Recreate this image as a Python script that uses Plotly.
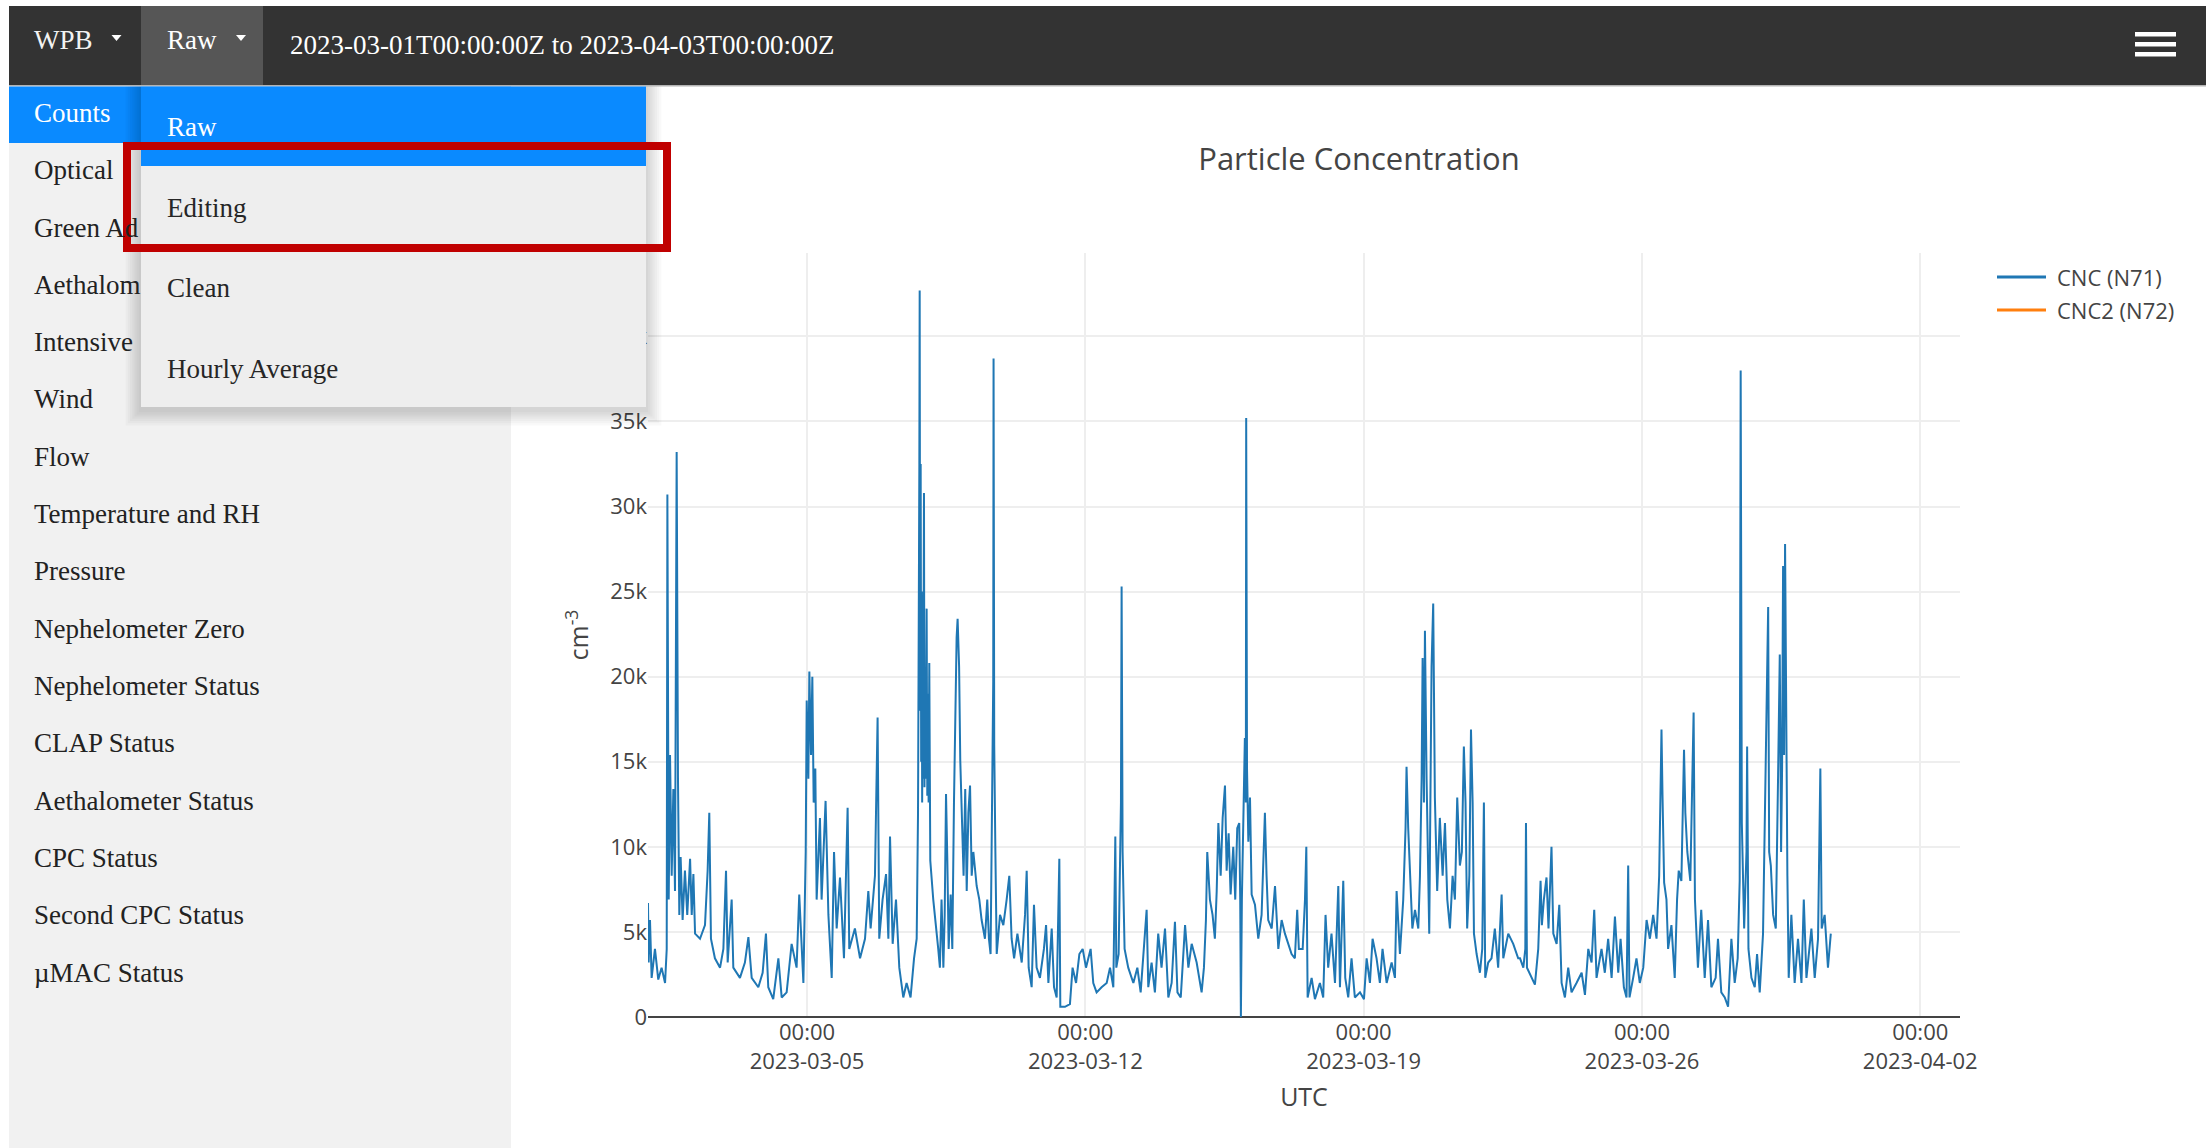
import pandas as pd
import plotly.graph_objects as go

# ---------------- data ----------------
START = "2023-03-01T00:00:00"
# hours since 2023-03-01 00:00 UTC
cnc_hours = [
    0.0, 0.4, 1.2, 2.2, 4.2, 6.2, 8.2, 10.3, 11.3, 11.7, 12.5, 13.3, 14.3, 15.3, 16.3, 17.3, 18.1, 18.9, 19.7,
    20.9, 22.3, 23.7, 25.4, 26.4, 27.4, 28.4, 31.4, 34.4, 36.0, 37.0, 38.0, 40.4, 43.5, 45.5, 47.1, 48.1, 50.5,
    51.5, 55.5, 58.5, 60.6, 62.6, 66.6, 69.2, 71.2, 72.6, 75.6, 78.7, 80.7, 83.7, 86.7, 89.7, 91.3, 93.8, 95.2,
    95.8, 96.8, 97.4, 98.4, 99.2, 100.0, 101.0, 101.8, 103.8, 104.8, 107.2, 108.9, 110.9, 112.3, 113.9, 115.9,
    118.3, 120.5, 121.5, 124.9, 128.0, 131.0, 133.0, 134.4, 137.0, 138.6, 139.6, 141.6, 143.7, 145.1, 146.1,
    147.7, 149.7, 151.7, 154.1, 156.1, 158.5, 160.6, 162.2,
    163.0, 163.4, 163.8, 164.0, 164.3, 164.6, 164.9, 165.2, 165.5, 165.8, 166.1, 166.6, 166.9, 167.2, 167.6,
    168.2, 168.6, 169.0, 169.4, 169.8, 170.4, 172.2, 175.2,
    176.2, 177.2, 178.3, 179.1, 179.9, 180.7, 181.5, 182.7, 183.7, 184.7, 185.5, 186.3, 186.9, 187.8, 188.5,
    189.5, 190.5, 191.5, 192.4, 193.4, 194.4, 195.4, 196.4, 198.4, 200.0, 201.4, 203.4, 204.8, 205.8, 206.8,
    207.8, 208.4, 208.6, 209.0, 209.7, 210.5, 212.5, 214.5, 216.5, 218.1, 219.5, 221.0, 223.0, 225.6, 227.6,
    228.6, 229.8, 231.6, 233.0, 234.6, 236.6, 239.0, 240.3, 241.7, 243.7, 245.1, 246.7, 248.3, 248.9, 251.7,
    254.7, 256.3, 258.4, 260.4, 262.4, 264.4, 265.8, 267.2, 268.8, 270.8, 273.8, 276.9, 278.9, 280.9, 282.1,
    282.7, 284.1, 285.5, 285.9, 286.5, 287.7, 289.9, 293.0, 295.4, 297.4, 299.0, 301.0, 302.0, 304.0, 306.0,
    308.0, 310.0, 312.1, 314.1, 316.1, 318.1, 319.6, 321.6, 323.1, 324.2, 326.2, 328.2, 331.2, 334.2, 335.6,
    336.8, 337.6, 339.2, 340.8, 342.2, 343.3, 344.3,
    345.7, 346.9, 348.3, 349.3, 350.5, 351.7, 353.3, 354.5, 355.7, 356.9, 357.5, 357.9, 358.5, 359.3, 360.3,
    360.9, 361.1, 361.6, 362.4, 363.4, 364.4, 366.4, 368.4, 370.4, 371.8, 372.4, 373.4, 374.4, 376.5, 378.5,
    380.5, 382.5, 384.5, 386.5, 388.5, 390.5, 391.9, 392.9, 395.2, 396.6, 397.4, 398.2, 400.6, 402.6, 405.6,
    407.6, 409.0, 410.6, 412.6, 414.7, 416.7, 417.7, 419.7, 420.9, 422.7, 424.7, 426.7, 429.8, 432.2, 433.8,
    435.8, 437.4, 439.8, 441.8, 443.4, 445.9, 448.9, 450.9, 451.9, 453.9, 455.9, 457.3, 457.9, 458.9, 459.9,
    461.4, 463.0, 465.0, 466.0, 467.0, 467.6, 468.4, 469.0, 470.0, 471.6, 472.4, 473.0, 474.0, 475.0, 476.4,
    478.0, 479.7, 481.1, 482.5, 484.1, 485.7, 487.1, 488.5, 490.1, 491.3, 492.5, 493.5, 494.5, 495.8, 496.8,
    497.8, 498.6, 500.2, 502.2, 503.6, 504.6, 505.4, 507.2, 509.2, 511.2, 513.2, 515.3, 516.3, 519.3, 522.3,
    525.3,
    526.4, 528.4, 529.6, 530.0, 530.6, 533.4, 535.4, 537.4, 538.8, 539.6, 540.8, 542.4, 543.6, 545.4, 546.5,
    548.5, 550.1, 551.5, 553.5, 555.5, 557.5, 560.5, 563.6, 565.6, 567.6, 569.6, 571.2, 572.6, 575.6, 577.6,
    579.6, 581.7, 583.7, 585.7, 587.1, 589.1, 590.7, 591.7, 592.5, 594.7, 596.7, 598.7, 600.8, 602.8, 604.8,
    606.8, 608.8, 610.4, 611.8, 612.4, 613.4, 614.8, 615.8, 617.8, 619.8, 621.2, 622.2, 623.8, 625.4, 626.2,
    627.4, 629.2, 631.2, 632.0, 633.8, 635.8, 637.9, 639.9, 641.9, 644.5, 645.9, 647.9, 650.0, 652.0, 654.0,
    656.0, 657.8, 659.0, 659.6, 660.3, 661.7, 663.1, 663.5, 664.3, 666.1, 668.1, 669.5, 671.1, 673.1, 674.1,
    675.2, 676.2, 676.8, 677.8, 679.2, 680.8, 682.2, 683.2, 684.0, 684.6, 685.2, 685.8, 686.4, 687.2, 687.8,
    688.6, 690.2, 692.2, 694.2, 696.3, 697.7, 699.3, 702.3, 704.3, 706.3, 707.7, 708.5, 710.3, 712.3, 714.0,
]
# CNC (N71) concentration, cm^-3
cnc_values = [
    6700, 3200, 5700, 2300, 4000, 2200, 2900, 2000, 4000, 30700, 6900, 15400, 8300, 13400, 7400, 33200, 14000, 6000, 9400,
    5700, 8600, 6000, 9300, 6000, 8400, 4900, 4600, 5400, 8600, 12000, 4600, 3450, 2900, 4000, 8600, 3200, 6900,
    2900, 2300, 3200, 4700, 2300, 1750, 2600, 4900, 1750, 1050, 3450, 1150, 1450, 4300, 2900, 7200, 2000, 9700,
    18600, 14000, 20300, 15400, 20000, 12600, 14600, 6900, 11700, 6900, 12700, 6000, 2300, 9700, 5200, 8200,
    3450, 12300, 4000, 5200, 3450, 4600, 7400, 5200, 8300, 17600, 4600, 6900, 8400, 4600, 10600,
    4300, 6900, 2900, 1150, 2000, 1150, 3450, 4600,
    12000, 19700, 32500, 42700, 18000, 32500, 15000, 25000, 12600, 21400, 14000, 30800, 13500, 20000, 14000,
    24000, 13000, 19000, 12600, 20800, 9200, 6900, 4000,
    2900, 6900, 2900, 6000, 13100, 9200, 4000, 7200, 4000, 12600, 18300, 22300, 23400, 20600, 15100,
    11700, 8300, 13400, 7400, 12000, 13600, 8300, 9700, 7700, 6900, 5700, 4600, 6900, 4600, 3700,
    15400, 19700, 38700, 16000, 9700, 3700, 6000, 5400, 6900, 8300, 4600, 3450, 4900, 3200, 6000,
    8600, 2900, 1750, 6600, 2900, 2300, 4000, 5400, 2000, 5200, 1750, 1150, 9300, 600, 600,
    750, 2900, 2000, 3700, 4000, 2900, 3450, 4000, 2000, 1450, 1750, 2000, 2900, 1750, 10600,
    2900, 3700, 12600, 25300, 9700, 4000, 2900, 2000, 2900, 1450, 3450, 6300, 1750, 3200, 1450,
    4900, 2900, 5200, 1150, 2000, 5600, 1450, 1150, 4000, 5400, 2900, 4300, 3200, 1450, 2900,
    5700, 9700, 6900, 6000, 4600, 7400, 11400,
    8300, 11700, 13600, 8600, 10800, 7200, 10000, 6900, 11100, 11400, 6900, 0, 6900, 11100, 16400,
    12600, 35200, 14600, 10300, 12900, 7200, 6600, 4600, 6000, 10900, 12000, 8300, 5700, 5200, 7700,
    4000, 5700, 4900, 4300, 3700, 3450, 6300, 4000, 4000, 6900, 10000, 1150, 2300, 1050, 2000,
    1150, 6000, 2900, 4900, 2000, 7700, 1750, 8000, 2300, 1150, 3450, 1150, 1450, 1050, 3450,
    2000, 4600, 3450, 2000, 4000, 2000, 3200, 2300, 7400, 3700, 6900, 11100, 14700, 11100, 8600,
    5200, 6300, 5200, 8300, 14000, 21100, 12600, 22700, 14000, 4900, 14000, 20600, 24300, 12900, 7400,
    11700, 8300, 11400, 6900, 5200, 8300, 6900, 12900, 8900, 9700, 15900, 12600, 5200, 8300, 16900,
    12600, 4900, 3700, 2600, 4000, 12600, 2300, 3200, 3450, 5200, 2900, 7200, 3450, 4900, 4300,
    3450,
    3450, 2900, 4000, 11400, 2900, 2300, 1900, 4000, 8000, 5400, 6900, 8200, 5200, 10000, 4900,
    4300, 6600, 2000, 1150, 2900, 1450, 2000, 2600, 1300, 4000, 3200, 6300, 2300, 4000, 2600,
    4600, 2300, 5900, 2600, 4600, 1750, 1150, 8900, 1150, 2300, 3450, 2000, 2900, 5700, 4600,
    6000, 4600, 8300, 16900, 13100, 7900, 6900, 4000, 5400, 2300, 6900, 8600, 8000, 15700, 12000,
    9700, 8000, 17900, 6900, 2900, 6300, 2300, 5700, 1750, 2300, 4600, 1450, 1150, 600, 4600,
    2000, 3450, 8000, 38000, 11400, 5200, 9700, 15900, 4000, 2300, 1750, 3700, 1450, 4900, 11100,
    17400, 24100, 9700, 8900, 6000, 5200, 14300, 21300, 9700, 14600, 26500, 15400, 27800, 15400, 8300,
    2300, 6000, 2000, 4600, 2000, 6900, 2300, 5200, 2300, 4600, 14600, 5200, 6000, 2900, 4900,
]
# CNC2 (N72) has no visible data in this window
cnc2_hours = []
cnc2_values = []

x_range = ["2023-03-01", "2023-04-03"]
x_tick0 = "2023-03-05"
y_range = [0, 44900]

sidebar_items = ["Counts", "Optical", "Green Ad", "Aethalom", "Intensive", "Wind", "Flow",
                 "Temperature and RH", "Pressure", "Nephelometer Zero", "Nephelometer Status",
                 "CLAP Status", "Aethalometer Status", "CPC Status", "Second CPC Status", "µMAC Status"]
dropdown_items = ["Raw", "Editing", "Clean", "Hourly Average"]
nav_station = "WPB"
nav_mode = "Raw"
nav_range = "2023-03-01T00:00:00Z to 2023-04-03T00:00:00Z"
legend_names = ["CNC (N71)", "CNC2 (N72)"]
legend_colors = ["#1f77b4", "#ff7f0e"]

# ---------------- figure ----------------
W, H = 2208, 1148


def X(px):
    return px / W


def Y(py):
    return 1 - py / H


t0 = pd.Timestamp(START)
cnc_t = t0 + pd.to_timedelta(cnc_hours, unit="h")
cnc2_t = t0 + pd.to_timedelta(cnc2_hours, unit="h")

fig = go.Figure()
fig.add_trace(go.Scatter(x=cnc_t, y=cnc_values, mode="lines", name=legend_names[0],
                         line=dict(color=legend_colors[0], width=2), showlegend=False))
fig.add_trace(go.Scatter(x=cnc2_t, y=cnc2_values, mode="lines", name=legend_names[1],
                         line=dict(color=legend_colors[1], width=2), showlegend=False))

FONT = "Open Sans, verdana, arial, sans-serif"
SERIF = "Liberation Serif, Times New Roman, serif"

shapes = []


def rect(x0, y0, x1, y1, fill, layer="above", opacity=1.0):
    shapes.append(dict(type="rect", xref="paper", yref="paper", x0=X(x0), x1=X(x1), y0=Y(y1), y1=Y(y0),
                       fillcolor=fill, line=dict(width=0), layer=layer, opacity=opacity))


# navbar
rect(9, 6, 2206, 85, "#333333", layer="below")
rect(9, 85, 2206, 86.5, "#b4b4b4", layer="below")
rect(141, 6, 263, 85, "#565656", layer="below")
# hamburger
for yb in (32, 42, 52):
    rect(2135, yb, 2176, yb + 4.5, "#ffffff", layer="below")
# carets
for cx in (116.5, 241):
    shapes.append(dict(type="path", xref="paper", yref="paper", layer="below",
                       path=f"M {X(cx-5)} {Y(35)} L {X(cx+5)} {Y(35)} L {X(cx)} {Y(41)} Z",
                       fillcolor="#ffffff", line=dict(width=0)))
# sidebar
rect(9, 86.5, 511, 1148, "#f1f1f1", layer="below")
rect(9, 86.5, 511, 143, "#0a8aff", layer="below")
# dropdown shadow
for k in range(1, 8):
    e = k * 2.2
    rect(141 - e, 86.5, 646 + e, 407 + e + 3, "#000000", opacity=0.022)
# dropdown
rect(141, 86.5, 646, 407, "#eeeeee")
rect(141, 86.5, 646, 166, "#0a8aff")
# red highlight box
shapes.append(dict(type="rect", xref="paper", yref="paper", x0=X(127), x1=X(667), y0=Y(248), y1=Y(146),
                   line=dict(color="#c00000", width=8), fillcolor="rgba(0,0,0,0)", layer="above"))
# legend lines
for i, c in enumerate(legend_colors):
    yy = 277 + 33 * i
    shapes.append(dict(type="line", xref="paper", yref="paper", x0=X(1997), x1=X(2046), y0=Y(yy), y1=Y(yy),
                       line=dict(color=c, width=3), layer="above"))

ann = []


def text(x, y, s, size, color, family=SERIF, xanchor="left"):
    ann.append(dict(x=X(x), y=Y(y), xref="paper", yref="paper", text=s, showarrow=False,
                    xanchor=xanchor, yanchor="middle", font=dict(family=family, size=size, color=color)))


text(32, 40, nav_station, 27, "#f2f2f2")
text(165, 40, nav_mode, 27, "#ffffff")
text(288, 45, nav_range, 27, "#ffffff")
for i, s in enumerate(sidebar_items):
    text(32, 113 + 57.3 * i, s, 27, "#ffffff" if i == 0 else "#222222")
for s, yy in zip(dropdown_items, [127, 208, 288, 369]):
    text(165, yy, s, 27, "#ffffff" if s == "Raw" else "#262626")
for i, s in enumerate(legend_names):
    text(2055, 277 + 33 * i, s, 22, "#444444", family=FONT)

fig.update_layout(
    template="none",
    width=W, height=H,
    margin=dict(l=0, r=0, t=0, b=0),
    paper_bgcolor="#ffffff", plot_bgcolor="#ffffff",
    font=dict(family=FONT, color="#444444", size=22),
    title=dict(text="Particle Concentration", x=X(1359), y=Y(159), xref="paper", yref="paper",
               xanchor="center", yanchor="middle", font=dict(size=31, color="#444444", family=FONT)),
    showlegend=False,
    shapes=shapes,
    annotations=ann,
    xaxis=dict(domain=[X(648), X(1960)], type="date", range=x_range, tick0=x_tick0,
               dtick=7 * 86400000, tickformat="%H:%M<br>%Y-%m-%d", showgrid=True, gridcolor="#eeeeee",
               gridwidth=1.8, ticks="", showline=False, zeroline=False,
               tickfont=dict(size=22, color="#444444"),
               title=dict(text="UTC", font=dict(size=25, color="#444444"), standoff=14)),
    yaxis=dict(domain=[Y(1017), Y(253)], range=y_range, dtick=5000, showgrid=True, gridcolor="#eeeeee",
               gridwidth=1.8, zeroline=True, zerolinecolor="#444444", zerolinewidth=1.8, ticks="",
               showline=False, tickfont=dict(size=22, color="#444444"),
               title=dict(text="cm<sup>-3</sup>", font=dict(size=25, color="#444444"))),
)

fig.write_html("out.html", config={"displayModeBar": False},
               post_script="document.body.style.margin='0';document.body.style.overflow='hidden';")
